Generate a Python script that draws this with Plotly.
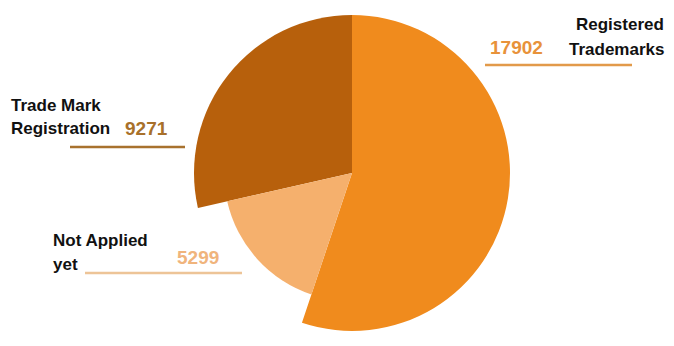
import plotly.graph_objects as go

categories = ["Registered Trademarks", "Not Applied yet", "Trade Mark Registration"]
values = [17902, 5299, 9271]
label_lines = [["Registered", "Trademarks"], ["Not Applied", "yet"], ["Trade Mark", "Registration"]]

W, H = 674, 346
slice_colors = ["#F08B1D", "#F5B06D", "#B7600C"]
value_colors = ["#E8923A", "#F0B47C", "#A8702A"]
line_colors = ["#E29A4A", "#EDC497", "#A8722E"]

def px(x):
    return x / W

def py(y):
    return 1 - y / H

cx, cy = 352, 173
R_big, R_small = 158, 128

def dom(r):
    return dict(x=[px(cx - r), px(cx + r)], y=[py(cy + r), py(cy - r)])

big_colors = [slice_colors[0], "rgba(0,0,0,0)", slice_colors[2]]
small_colors = ["rgba(0,0,0,0)", slice_colors[1], "rgba(0,0,0,0)"]

fig = go.Figure()
fig.add_trace(go.Pie(labels=categories, values=values, sort=False, direction="clockwise",
                     rotation=0, textinfo="none", hoverinfo="label+value",
                     marker=dict(colors=big_colors, line=dict(width=0)),
                     domain=dom(R_big), showlegend=False))
fig.add_trace(go.Pie(labels=categories, values=values, sort=False, direction="clockwise",
                     rotation=0, textinfo="none", hoverinfo="label+value",
                     marker=dict(colors=small_colors, line=dict(width=0)),
                     domain=dom(R_small), showlegend=False))

font = "Arial, Liberation Sans, sans-serif"
anns = []
shapes = []

def txt(t, x, y, anchor, color, size):
    anns.append(dict(text=t, x=px(x), y=py(y), xref="paper", yref="paper",
                     xanchor=anchor, yanchor="middle", showarrow=False,
                     font=dict(family=font, size=size, color=color)))

def hline(x0, x1, y, color):
    shapes.append(dict(type="line", xref="paper", yref="paper",
                       x0=px(x0), x1=px(x1), y0=py(y), y1=py(y),
                       line=dict(color=color, width=2.5)))

# Registered Trademarks
txt("<b>%s</b>" % label_lines[0][0], 666, 25, "right", "#111111", 17)
txt("<b>%s</b>" % label_lines[0][1], 666, 49, "right", "#111111", 17)
txt("<b>%d</b>" % values[0], 488, 47, "left", value_colors[0], 19)
hline(485, 632, 65, line_colors[0])

# Trade Mark Registration
txt("<b>%s</b>" % label_lines[2][0], 9, 105, "left", "#111111", 17)
txt("<b>%s</b>" % label_lines[2][1], 9, 129, "left", "#111111", 17)
txt("<b>%d</b>" % values[2], 123, 128, "left", value_colors[2], 19)
hline(70, 185, 147, line_colors[2])

# Not Applied yet
txt("<b>%s</b>" % label_lines[1][0], 51, 240, "left", "#111111", 17)
txt("<b>%s</b>" % label_lines[1][1], 51, 264, "left", "#111111", 17)
txt("<b>%d</b>" % values[1], 175, 257, "left", value_colors[1], 19)
hline(85, 242, 273, line_colors[1])

fig.update_layout(width=W, height=H, margin=dict(l=0, r=0, t=0, b=0),
                  paper_bgcolor="white", plot_bgcolor="white",
                  annotations=anns, shapes=shapes, showlegend=False)

fig.write_html("out.html")
